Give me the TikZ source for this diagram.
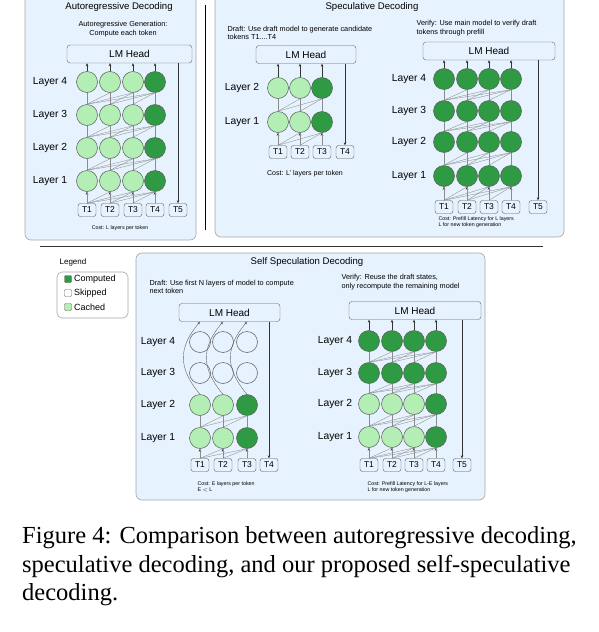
\documentclass[tikz,border=0pt]{standalone}
\usepackage{fontspec}
\setmainfont{Liberation Sans}
\newfontfamily\capfont{Liberation Serif}
\usetikzlibrary{arrows.meta,positioning,calc}
\definecolor{compgreen}{HTML}{2E9A43}
\definecolor{cachgreen}{HTML}{B3EFB5}
\definecolor{panelblue}{HTML}{E6F2FD}
\definecolor{edgegray}{HTML}{8C8C8C}

% causal links: tokens -> layer 1 -> ... -> layer #3 (#2 columns, prefix #1)
\newcommand\causal[3]{%
  \foreach \c in {1,...,#2}{
    \draw[up] (#1-t\c) -- (#1-1-\c);
    \foreach \d in {\c,...,#2} \draw[link] (#1-t\c.north) -- (#1-1-\d.south);
  }
  \foreach \l in {2,...,#3}{
    \pgfmathtruncatemacro\k{\l-1}
    \foreach \c in {1,...,#2}
      \foreach \d in {\c,...,#2} \draw[link] (#1-\k-\c.north) -- (#1-\l-\d.south);
  }
}

\begin{document}
\begin{tikzpicture}[x=1pt,y=-1pt,
   >={Stealth[length=3pt,width=2.6pt]},
   panel/.style={draw=black!35,fill=panelblue,rounded corners=6pt,line width=0.6pt},
   unit/.style={circle,draw=black!65,minimum size=21pt,inner sep=0pt,line width=0.5pt},
   tok/.style={draw=black!65,rounded corners=2.5pt,minimum width=18pt,minimum height=13pt,inner sep=0pt,font=\fontsize{8.5}{10}\selectfont},
   head/.style={draw=black!60,rounded corners=3pt,minimum height=18pt,inner sep=0pt,font=\fontsize{10}{12}\selectfont},
   lyr/.style={font=\fontsize{10.3}{12}\selectfont},
   ttl/.style={font=\fontsize{9.6}{11}\selectfont},
   note/.style={font=\fontsize{7.3}{8.3}\selectfont},
   cost/.style={font=\fontsize{5.3}{6.2}\selectfont},
   link/.style={draw=edgegray,line width=0.35pt},
   up/.style={->,draw=black!80,line width=0.4pt},
   key/.style={draw=black!60,rounded corners=1pt,minimum size=7pt,inner sep=0pt}]
  \useasboundingbox (0,0) rectangle (598,632);
  % panels and separators
  \draw[panel] (25,-8) rectangle (196,240);
  \draw[panel] (215,-8) rectangle (564,237);
  \draw[panel] (136,253) rectangle (485,500);
  \draw[line width=0.8pt] (205,5) -- (205,230);
  \draw[line width=0.8pt,black!80] (40,246) -- (543,246);
  % titles
  \node[ttl] (ar-title) at (119,7) {Autoregressive Decoding};
  \node[ttl] (sp-title) at (372,7) {Speculative Decoding};
  \node[ttl] (ss-title) at (307,262) {Self Speculation Decoding};

  % ---- autoregressive decoding
  \node[note,align=center] (ar-note) at (123,29) {Autoregressive Generation:\\Compute each token};
  \node[head,minimum width=125pt] (ar-head) at (129.5,54) {LM Head};
  \foreach \l/\y in {1/181,2/148,3/115,4/82}{
    \node[lyr] (ar-l\l) at (50,\y) {Layer \l};
    \foreach \c/\x/\f in {1/87/cachgreen,2/110/cachgreen,3/133/cachgreen,4/155/compgreen}
      \node[unit,fill=\f] (ar-\l-\c) at (\x,\y) {};
  }
  \foreach \c/\x in {1/87,2/110,3/133,4/155,5/178}
    \node[tok] (ar-t\c) at (\x,210) {T\c};
  \causal{ar}{4}{4}
  \foreach \c in {1,...,4} \draw[up] (ar-4-\c) -- (ar-4-\c |- ar-head.south);
  \draw[up] (ar-head.south -| ar-t5) -- (ar-t5);
  \node[cost] (ar-cost) at (120,228) {Cost: L layers per token};

  % ---- speculative decoding: draft
  \node[note,anchor=west,align=left] (sd-note) at (224,33) {Draft: Use draft model to generate candidate\\tokens T1....T4};
  \node[head,minimum width=100pt] (sd-head) at (306,54.5) {LM Head};
  \foreach \l/\y in {1/122,2/88}{
    \node[lyr] (sd-l\l) at (242,\y) {Layer \l};
    \foreach \c/\x/\f in {1/278/cachgreen,2/300/cachgreen,3/322/compgreen}
      \node[unit,fill=\f] (sd-\l-\c) at (\x,\y) {};
  }
  \foreach \c/\x in {1/278,2/300,3/322,4/345}
    \node[tok] (sd-t\c) at (\x,152) {T\c};
  \causal{sd}{3}{2}
  \foreach \c in {1,...,3} \draw[up] (sd-2-\c) -- (sd-2-\c |- sd-head.south);
  \draw[up] (sd-head.south -| sd-t4) -- (sd-t4);
  \node[font=\fontsize{7}{8}\selectfont] (sd-cost) at (305,174) {Cost: L' layers per token};

  % ---- speculative decoding: verify
  \node[note,anchor=west,align=left] (sv-note) at (413,28) {Verify: Use main model to verify draft\\tokens through prefill};
  \node[head,minimum width=132pt] (sv-head) at (489,51) {LM Head};
  \foreach \l/\y in {1/176,2/142,3/111,4/79}{
    \node[lyr] (sv-l\l) at (409,\y) {Layer \l};
    \foreach \c/\x in {1/444,2/467,3/489,4/511}
      \node[unit,fill=compgreen] (sv-\l-\c) at (\x,\y) {};
  }
  \foreach \c/\x in {1/444,2/467,3/489,4/511,5/538}
    \node[tok] (sv-t\c) at (\x,207) {T\c};
  \causal{sv}{4}{4}
  \foreach \c in {1,...,4} \draw[up] (sv-4-\c) -- (sv-4-\c |- sv-head.south);
  \draw[up] (sv-head.south -| sv-t5) -- (sv-t5);
  \node[cost,anchor=west,align=left] (sv-cost) at (435,222) {Cost: Prefill Latency for L layers\\L for new token generation};

  % ---- legend
  \node[font=\fontsize{8}{10}\selectfont] (lg-title) at (73,262) {Legend};
  \draw[draw=black!35,fill=white,rounded corners=5pt,line width=0.6pt] (57,272) rectangle (128,318);
  \foreach \i/\y/\f/\t in {1/279/compgreen/Computed,2/293/white/Skipped,3/307/cachgreen/Cached}{
    \node[key,fill=\f] (lg-k\i) at (68,\y) {};
    \node[anchor=west,inner sep=0pt,font=\fontsize{9}{10}\selectfont] (lg-t\i) at (74,\y) {\t};
  }

  % ---- self speculation: draft
  \node[note,anchor=west,align=left] (ssd-note) at (146,287) {Draft: Use first N layers of model to compute\\next token};
  \node[head,minimum width=101pt] (ssd-head) at (229.5,312.5) {LM Head};
  \foreach \l/\y/\ca/\cb in {1/438/cachgreen/compgreen,2/405/cachgreen/compgreen,3/373/none/none,4/342/none/none}{
    \node[lyr] (ssd-l\l) at (158,\y) {Layer \l};
    \foreach \c/\x/\f in {1/200/\ca,2/223/\ca,3/247/\cb}
      \node[unit,fill=\f] (ssd-\l-\c) at (\x,\y) {};
  }
  \foreach \c/\x in {1/200,2/223,3/247,4/269}
    \node[tok] (ssd-t\c) at (\x,465) {T\c};
  \causal{ssd}{3}{2}
  \foreach \c in {1,...,3}
    \draw[up,draw=black!60] (ssd-2-\c.north) .. controls +(-22,-26) and +(-22,26) .. (ssd-2-\c |- ssd-head.south);
  \draw[up] (ssd-head.south -| ssd-t4) -- (ssd-t4);
  \node[cost,anchor=west,align=left] (ssd-cost) at (194,487) {Cost: E layers per token\\E $<$ L};

  % ---- self speculation: verify
  \node[note,anchor=west,align=left] (ssv-note) at (338,282) {Verify: Reuse the draft states,\\only recompute the remaining model};
  \node[head,minimum width=132pt] (ssv-head) at (415,310.5) {LM Head};
  \foreach \l/\y/\ca/\cb in {1/437/cachgreen/compgreen,2/404/cachgreen/compgreen,3/373/compgreen/compgreen,4/341/compgreen/compgreen}{
    \node[lyr] (ssv-l\l) at (335,\y) {Layer \l};
    \foreach \c/\x/\f in {1/369/\ca,2/392/\ca,3/414/\ca,4/436/\cb}
      \node[unit,fill=\f] (ssv-\l-\c) at (\x,\y) {};
  }
  \foreach \c/\x in {1/369,2/392,3/414,4/436,5/462}
    \node[tok] (ssv-t\c) at (\x,465) {T\c};
  \causal{ssv}{4}{4}
  \foreach \c in {1,...,4} \draw[up] (ssv-4-\c) -- (ssv-4-\c |- ssv-head.south);
  \draw[up] (ssv-head.south -| ssv-t5) -- (ssv-t5);
  \node[cost,anchor=west,align=left] (ssv-cost) at (364,487) {Cost: Prefill Latency for L-E layers\\L for new token generation};

  % caption
  \foreach \i/\y/\t in {1/543/{Figure 4: Comparison between autoregressive decoding,},
                        2/572/{speculative decoding, and our proposed self-speculative},
                        3/600/{decoding.}}
    \node[anchor=base west,inner sep=0pt,font=\capfont\fontsize{24.5}{28.5}\selectfont] (cap\i) at (22,\y) {\t};
\end{tikzpicture}
\end{document}
